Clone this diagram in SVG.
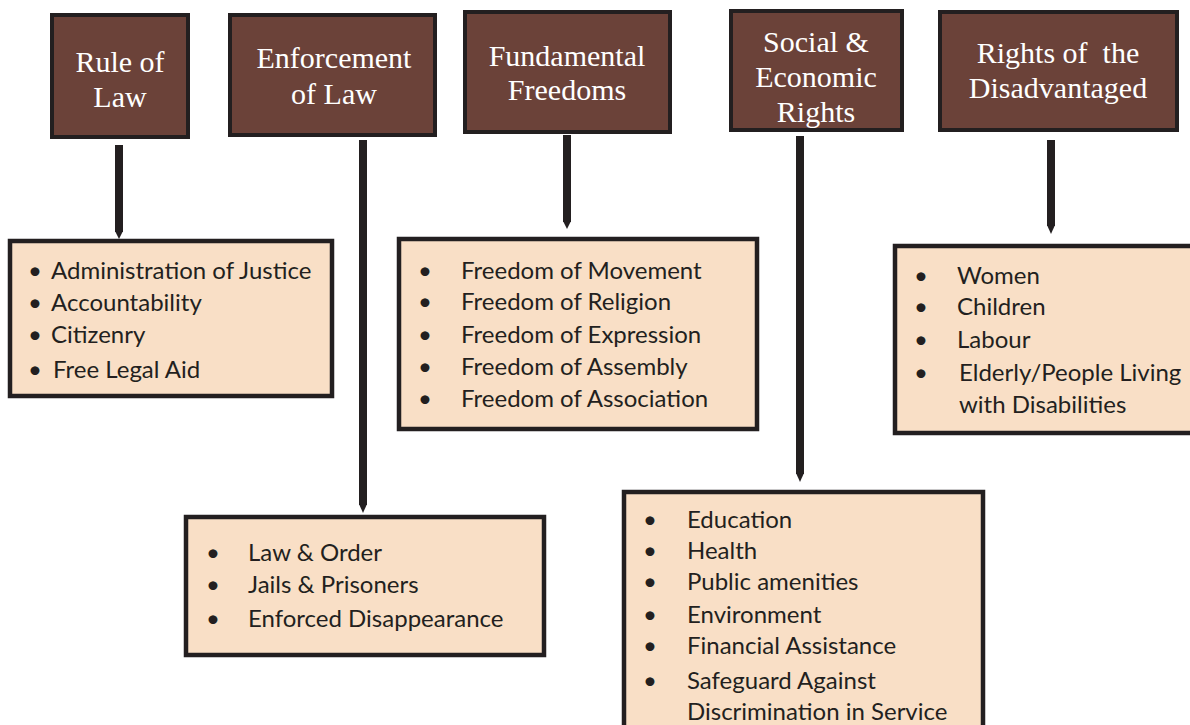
<svg xmlns="http://www.w3.org/2000/svg" width="1190" height="725" viewBox="0 0 1190 725">
<style>
.title rect{fill:#6b4239;stroke:#231f20;stroke-width:4}
.title text{font-family:"Liberation Serif",serif;font-size:30px;fill:#ffffff;text-anchor:middle}
.list rect{fill:#f9dfc6;stroke:#231f20;stroke-width:4.5}
.list text{font-family:Lato,"Liberation Sans",sans-serif;font-size:24px;fill:#231f20}
.conn line{stroke:#231f20;stroke-width:8}
</style>
<rect width="1190" height="725" fill="#ffffff"/>
<g id="t-rule" class="title">
<rect x="52" y="15" width="136" height="122"/>
<text x="120" y="72">Rule of</text>
<text x="120" y="107">Law</text>
</g>
<g id="t-enforcement" class="title">
<rect x="230" y="15" width="205" height="120"/>
<text x="334" y="68">Enforcement</text>
<text x="334" y="104">of Law</text>
</g>
<g id="t-freedoms" class="title">
<rect x="465" y="12" width="205" height="120"/>
<text x="567" y="66">Fundamental</text>
<text x="567" y="100">Freedoms</text>
</g>
<g id="t-social" class="title">
<rect x="731" y="11" width="171" height="119"/>
<text x="816" y="52">Social &amp;</text>
<text x="816" y="87">Economic</text>
<text x="816" y="122">Rights</text>
</g>
<g id="t-disadvantaged" class="title">
<rect x="940" y="12" width="237" height="118"/>
<text x="1058" y="63">Rights of&#160; the</text>
<text x="1058" y="98">Disadvantaged</text>
</g>
<g id="connectors" class="conn" fill="#231f20">
<line x1="119" y1="145" x2="119" y2="232"/>
<path d="M115,231 L123,231 L119,239 Z"/>
<line x1="363" y1="140" x2="363" y2="505"/>
<path d="M359,504 L367,504 L363,513 Z"/>
<line x1="567" y1="135" x2="567" y2="222"/>
<path d="M563,221 L571,221 L567,229 Z"/>
<line x1="800" y1="136" x2="800" y2="474"/>
<path d="M796,473 L804,473 L800,482 Z"/>
<line x1="1051" y1="140" x2="1051" y2="226"/>
<path d="M1047,225 L1055,225 L1051,234 Z"/>
</g>
<g id="l-rule" class="list">
<rect x="10" y="241" width="322" height="155"/>
<text x="28" y="279">•</text><text x="51" y="279">Administration of Justice</text>
<text x="28" y="311">•</text><text x="51" y="311">Accountability</text>
<text x="28" y="343">•</text><text x="51" y="343">Citizenry</text>
<text x="28" y="378">•</text><text x="53" y="378">Free Legal Aid</text>
</g>
<g id="l-enforcement" class="list">
<rect x="186" y="517" width="358" height="138"/>
<text x="206" y="561">•</text><text x="248" y="561">Law &amp; Order</text>
<text x="206" y="593">•</text><text x="248" y="593">Jails &amp; Prisoners</text>
<text x="206" y="627">•</text><text x="248" y="627">Enforced Disappearance</text>
</g>
<g id="l-freedoms" class="list">
<rect x="399" y="239" width="358" height="190"/>
<text x="418" y="279">•</text><text x="461" y="279">Freedom of Movement</text>
<text x="418" y="310">•</text><text x="461" y="310">Freedom of Religion</text>
<text x="418" y="343">•</text><text x="461" y="343">Freedom of Expression</text>
<text x="418" y="375">•</text><text x="461" y="375">Freedom of Assembly</text>
<text x="418" y="407">•</text><text x="461" y="407">Freedom of Association</text>
</g>
<g id="l-social" class="list">
<rect x="624" y="492" width="359" height="250"/>
<text x="643" y="528">•</text><text x="687" y="528">Education</text>
<text x="643" y="559">•</text><text x="687" y="559">Health</text>
<text x="643" y="590">•</text><text x="687" y="590">Public amenities</text>
<text x="643" y="623">•</text><text x="687" y="623">Environment</text>
<text x="643" y="654">•</text><text x="687" y="654">Financial Assistance</text>
<text x="643" y="689">•</text><text x="687" y="689">Safeguard Against</text>
<text x="687" y="720">Discrimination in Service</text>
</g>
<g id="l-disadvantaged" class="list">
<rect x="895" y="246" width="305" height="187"/>
<text x="914" y="284">•</text><text x="957" y="284">Women</text>
<text x="914" y="315">•</text><text x="957" y="315">Children</text>
<text x="914" y="348">•</text><text x="957" y="348">Labour</text>
<text x="914" y="381">•</text><text x="959" y="381">Elderly/People Living</text>
<text x="959" y="413">with Disabilities</text>
</g>
</svg>
